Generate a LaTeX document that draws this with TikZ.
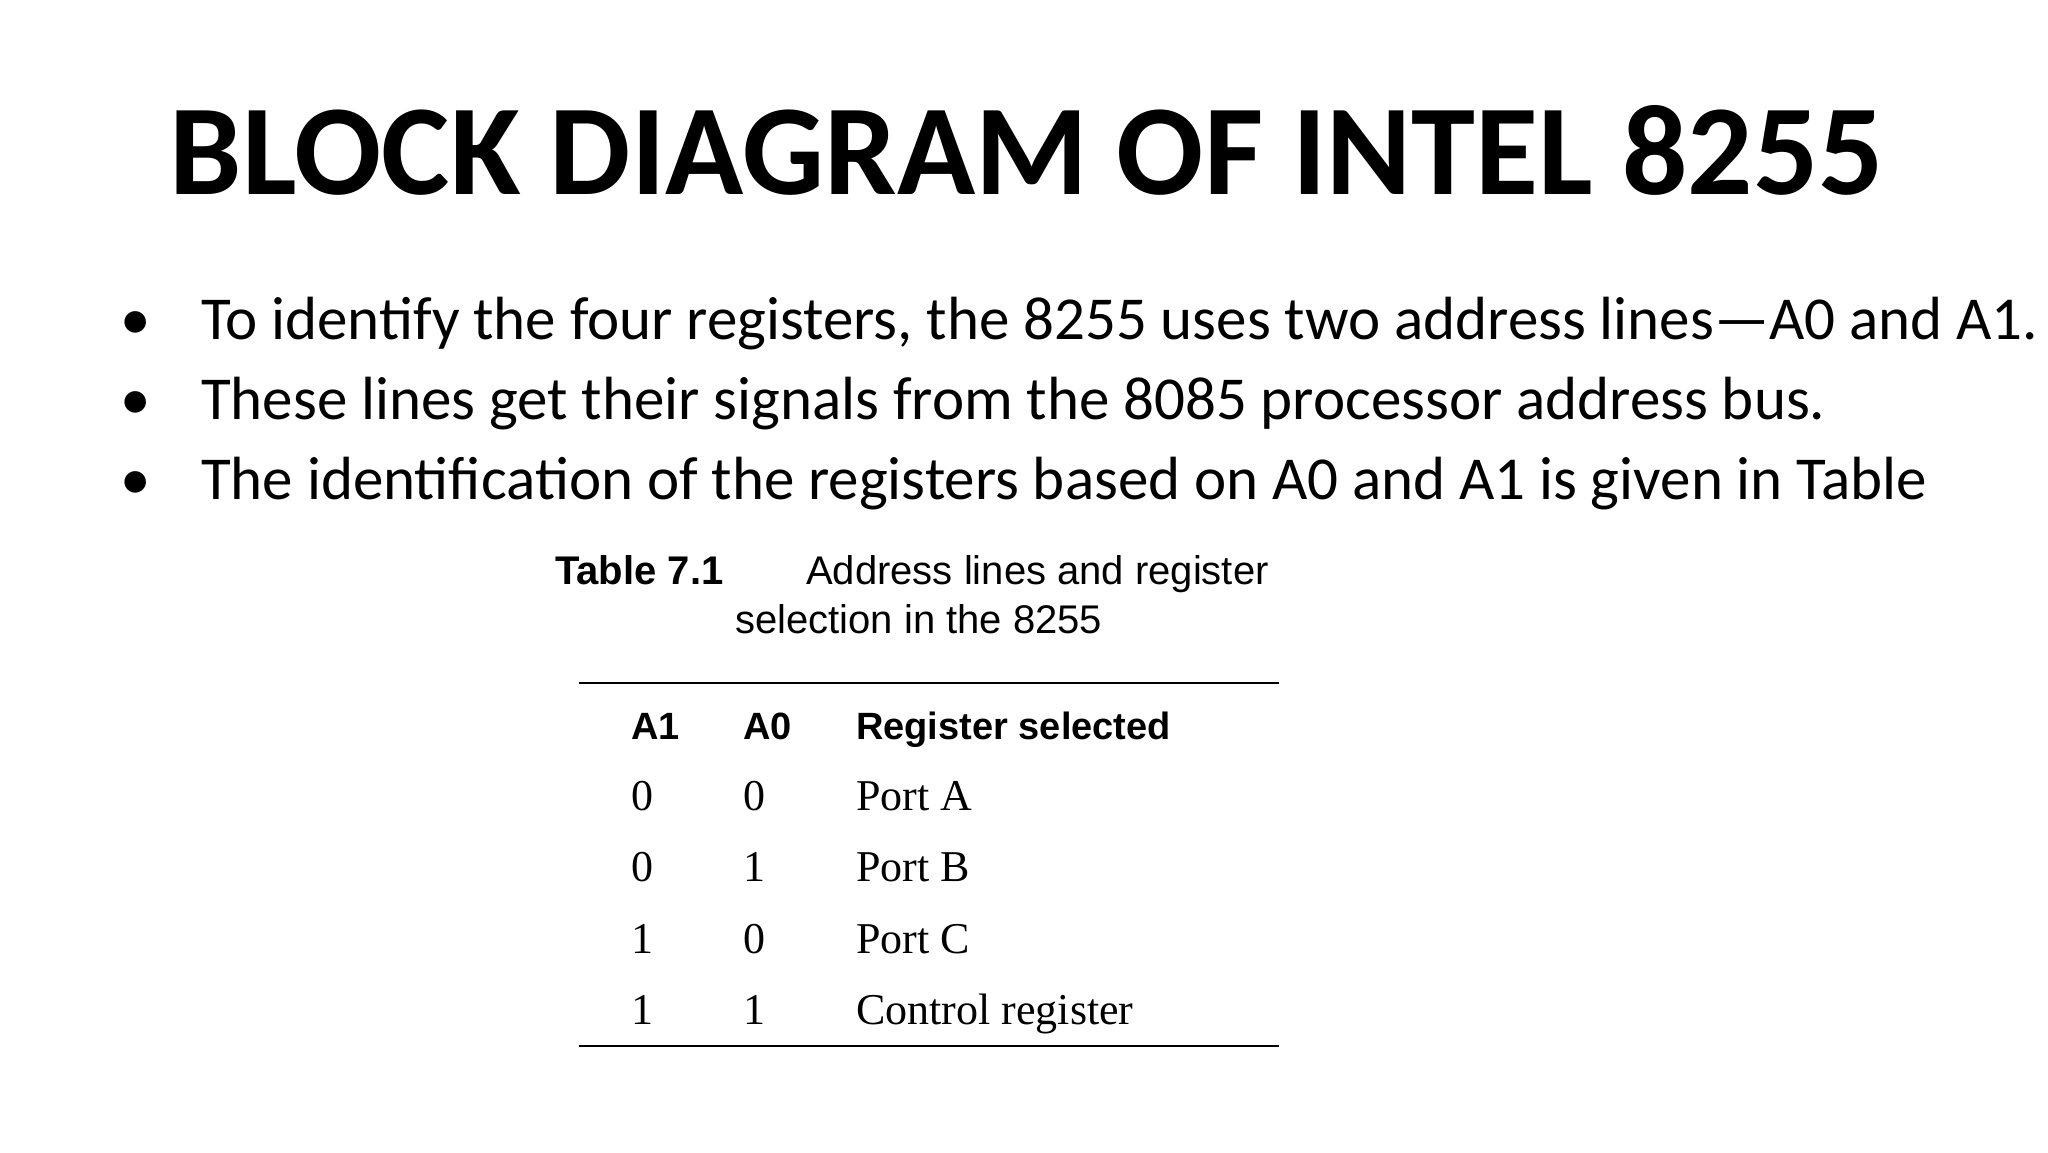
\documentclass[tikz,border=0pt]{standalone}
\usepackage{fontspec}
\setmainfont{Carlito}
\newfontfamily\tabsans{Liberation Sans}
\newfontfamily\tabserif{Liberation Serif}
\begin{document}
\begin{tikzpicture}[x=1pt,y=-1pt,
  bul/.style={anchor=base west,inner sep=0pt,font=\fontsize{61}{70}\selectfont},
  captxt/.style={anchor=base west,inner sep=0pt,font=\tabsans\fontsize{40}{46}\selectfont},
  hd/.style={anchor=base west,inner sep=0pt,font=\tabsans\bfseries\fontsize{38}{44}\selectfont},
  cell/.style={anchor=base west,inner sep=0pt,font=\tabserif\fontsize{44}{50}\selectfont},
  tabrule/.style={line width=2pt}]
\useasboundingbox[fill=white] (0,0) rectangle (2048,1152);
\node[anchor=base,inner sep=0pt,font=\bfseries\fontsize{129}{140}\selectfont] (title) at (1027,194) {BLOCK DIAGRAM OF INTEL 8255};
\foreach \y/\t [count=\i] in {339/{To identify the four registers, the 8255 uses two address lines—A0 and A1.},
  419/{These lines get their signals from the 8085 processor address bus.},
  499/{The identification of the registers based on A0 and A1 is given in Table}}{
  \node[bul] (d\i) at (120,\y) {•};
  \node[bul] (b\i) at (201,\y) {\t};
}
\node[captxt,font=\tabsans\bfseries\fontsize{40}{46}\selectfont] (tn) at (555,584) {Table 7.1};
\node[captxt] (tc1) at (806,584) {Address lines and register};
\node[captxt] (tc2) at (735,633) {selection in the 8255};
\coordinate (r1a) at (579,683); \coordinate (r1b) at (1279,683);
\draw[tabrule] (r1a) -- (r1b);
\node[hd] (h1) at (631,739) {A1};
\node[hd] (h2) at (743,739) {A0};
\node[hd] (h3) at (856,739) {Register selected};
\foreach \y/\a/\b/\c [count=\i] in {810/0/0/Port A,881/0/1/Port B,953/1/0/Port C,1024/1/1/Control register}{
  \node[cell] (ca\i) at (631,\y) {\a};
  \node[cell] (cb\i) at (743,\y) {\b};
  \node[cell] (cc\i) at (856,\y) {\c};
}
\coordinate (r2a) at (579,1046); \coordinate (r2b) at (1279,1046);
\draw[tabrule] (r2a) -- (r2b);
\end{tikzpicture}
\end{document}
